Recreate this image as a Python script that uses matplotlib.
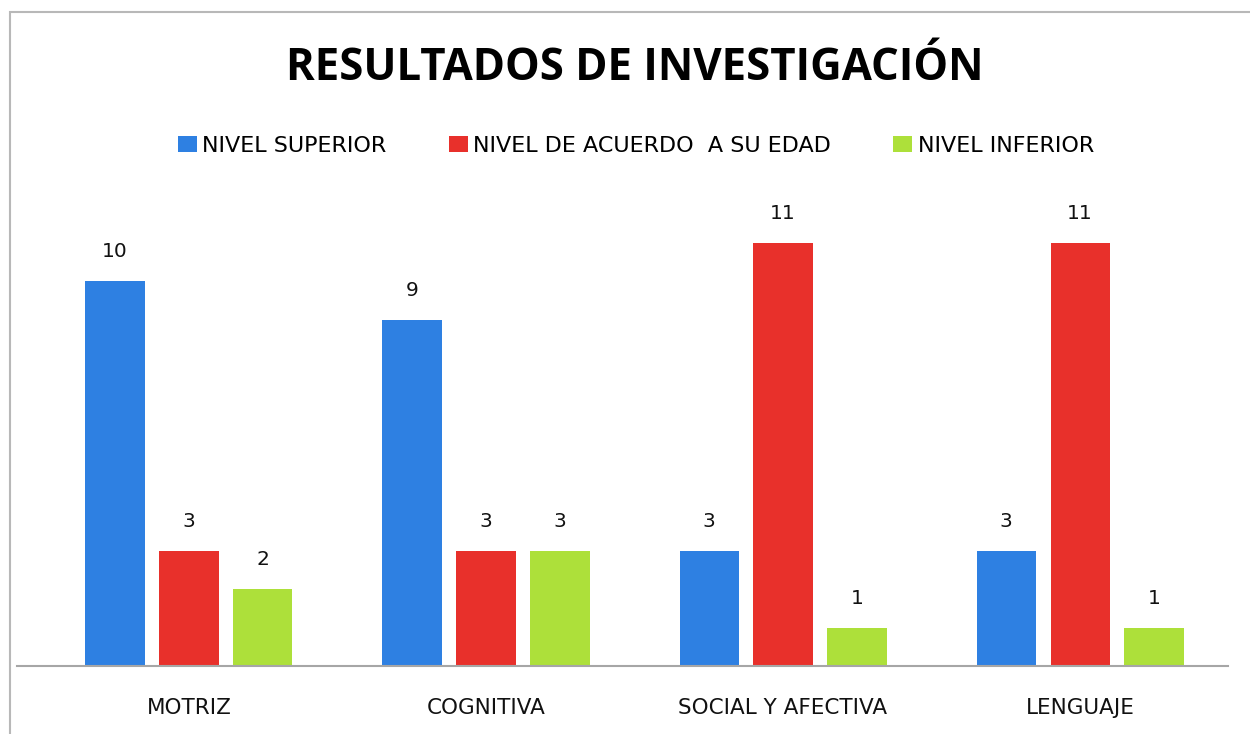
import matplotlib
matplotlib.use("Agg")
import matplotlib.pyplot as plt
import numpy as np
from matplotlib.patches import Rectangle, Patch

categories = ["MOTRIZ", "COGNITIVA", "SOCIAL Y AFECTIVA", "LENGUAJE"]
series_names = ["NIVEL SUPERIOR", "NIVEL DE ACUERDO  A SU EDAD", "NIVEL INFERIOR"]
superior = [10, 9, 3, 3]
acuerdo = [3, 3, 11, 11]
inferior = [2, 3, 1, 1]
colors = ["#2E80E2", "#E8302B", "#ADE03A"]

plt.rcParams['font.family'] = ['DejaVu Sans']

W, H = 1250, 734
fig = plt.figure(figsize=(W / 100, H / 100), dpi=100)

# outer border
fig.add_artist(Rectangle((10 / W, -0.05), 1.1, (H - 12) / H + 0.05, transform=fig.transFigure,
                         fill=False, edgecolor="#b8b8b8", linewidth=1.5))

ax = fig.add_axes([17 / W, 68 / H, 1211 / W, 462 / H])
x = np.arange(len(categories))
bw = 0.199
step = 0.249
for i, (vals, c) in enumerate(zip([superior, acuerdo, inferior], colors)):
    pos = x + (i - 1) * step
    ax.bar(pos, vals, width=bw, color=c, zorder=2)
    for p, v in zip(pos, vals):
        ax.text(p, v + 0.76, str(v), ha="center", va="center", fontsize=14.5, color="#111111")

ax.set_xlim(-0.579, 3.498)
ax.set_ylim(0, 12)
for s in ["top", "right", "left"]:
    ax.spines[s].set_visible(False)
ax.spines["bottom"].set_color("#a6a6a6")
ax.spines["bottom"].set_linewidth(1.5)
ax.set_yticks([])
ax.set_xticks(x)
ax.set_xticklabels(categories, fontsize=15.5, color="#111111")
ax.tick_params(axis="x", length=0, pad=23)

fig.text(635 / W, 1 - 68 / H, "RESULTADOS DE INVESTIGACIÓN", ha="center", va="center",
         fontsize=31.5, fontweight="bold", color="black", family=["Open Sans", "DejaVu Sans"])

handles = [Patch(facecolor=c) for c in colors]
fig.legend(handles, series_names, loc="center", bbox_to_anchor=(636 / W, 1 - 146 / H), ncol=3,
           frameon=False, fontsize=16, handlelength=0.85, handleheight=0.75, handletextpad=0.25,
           columnspacing=2.8)

fig.savefig("out.png", dpi=100)
